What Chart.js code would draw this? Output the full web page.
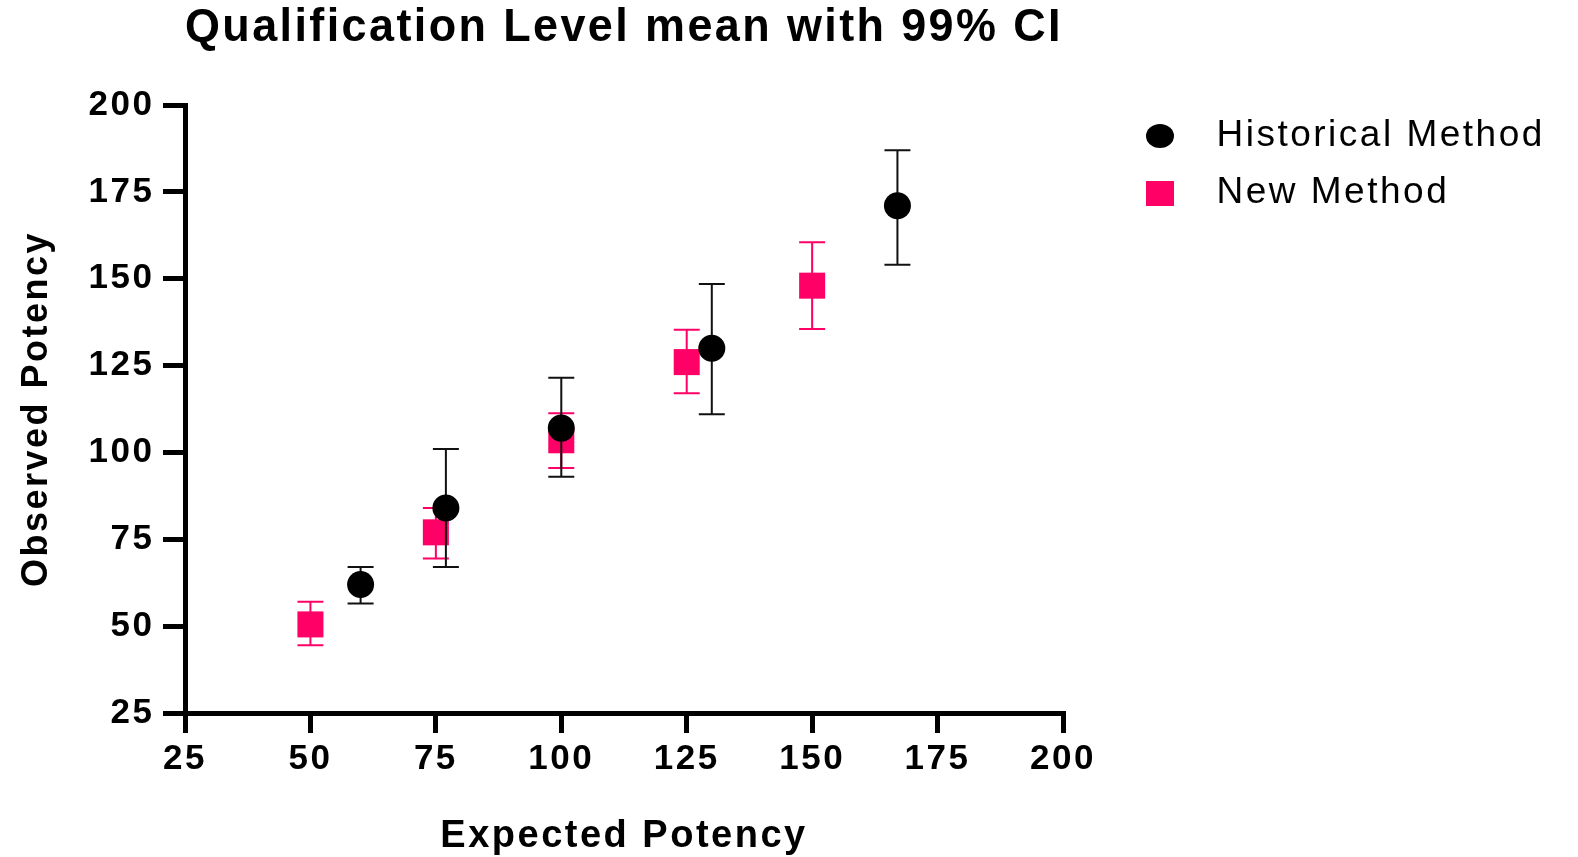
<!DOCTYPE html>
<html>
<head>
<meta charset="utf-8">
<title>Qualification Level mean with 99% CI</title>
<script src="https://cdn.jsdelivr.net/npm/chart.js@4.4.1/dist/chart.umd.min.js"></script>
<style>
  html, body { margin: 0; padding: 0; background: #fff; }
  canvas { display: block; }
</style>
</head>
<body>
<canvas id="potencyChart" width="1578" height="857"></canvas>
<script>
// expected vs observed potency, group means with 99% CI
var histExpected = [60, 77, 100, 130, 167];
var histMean = [62, 84, 107, 130, 171];
var histLow = [56.5, 67, 93, 111, 154];
var histHigh = [67, 101, 121.5, 148.5, 187];

var newExpected = [50, 75, 100, 125, 150];
var newMean = [50.5, 77, 103.5, 126, 148];
var newLow = [44.5, 69.5, 95.5, 117, 135.5];
var newHigh = [57, 84, 111.3, 135.3, 160.5];

var axisTicks = [25, 50, 75, 100, 125, 150, 175, 200];
var seriesNames = ['Historical Method', 'New Method'];

var FONT = "'Liberation Sans', Arial, sans-serif";
var PINK = '#ff0066';
var SPACING = '2.5px';
var LEGEND_SIZE = 37;

// small canvases used as legend symbols (pointStyleWidth wide)
var MARK_W = 115;
function legendMark(draw) {
  var c = document.createElement('canvas');
  c.width = MARK_W;
  c.height = 30;
  draw(c.getContext('2d'));
  return c;
}
var histMark = legendMark(function(g) {
  g.fillStyle = '#000';
  g.beginPath();
  g.ellipse(77, 15, 14, 12, 0, 0, Math.PI * 2);
  g.fill();
});
var newMark = legendMark(function(g) {
  g.fillStyle = PINK;
  g.fillRect(63, 3, 28, 25);
});

// keep the plot's right edge fixed: legend width depends on its longest label
var probe = document.createElement('canvas').getContext('2d');
probe.font = LEGEND_SIZE + 'px ' + FONT;
probe.letterSpacing = SPACING;
var legendText = Math.max.apply(null, seriesNames.map(function(s) { return probe.measureText(s).width; }));
var rightPad = Math.max(0, 515 - (20 + MARK_W + LEGEND_SIZE / 2 + legendText + 10));

// vertical CI whiskers with caps, drawn just before each dataset's points
var errorBars = {
  id: 'errorBars',
  beforeDatasetDraw(chart, args) {
    var ds = chart.data.datasets[args.index];
    if (!ds.ciLow) return;
    var xs = chart.scales.x, ys = chart.scales.y, ctx = chart.ctx;
    ctx.save();
    ctx.strokeStyle = ds.barColor;
    ctx.lineWidth = 2;
    ds.data.forEach(function(pt, i) {
      var px = xs.getPixelForValue(pt.x);
      var top = ys.getPixelForValue(ds.ciHigh[i]);
      var bot = ys.getPixelForValue(ds.ciLow[i]);
      ctx.beginPath();
      ctx.moveTo(px, top); ctx.lineTo(px, bot);
      ctx.moveTo(px - 13, top); ctx.lineTo(px + 13, top);
      ctx.moveTo(px - 13, bot); ctx.lineTo(px + 13, bot);
      ctx.stroke();
    });
    ctx.restore();
  }
};

// slightly wide lettering for all chart text
var spacing = {
  id: 'spacing',
  beforeUpdate(chart) { chart.ctx.letterSpacing = SPACING; },
  beforeDraw(chart) { chart.ctx.letterSpacing = SPACING; }
};

function axis(extra) {
  return Object.assign({
    type: 'linear',
    min: axisTicks[0],
    max: axisTicks[axisTicks.length - 1],
    afterBuildTicks: function(s) { s.ticks = axisTicks.map(function(v) { return {value: v}; }); },
    border: { display: true, color: '#000', width: 5 }
  }, extra);
}

new Chart(document.getElementById('potencyChart'), {
  type: 'scatter',
  data: {
    datasets: [
      {
        label: seriesNames[0],
        data: histExpected.map(function(x, i) { return {x: x, y: histMean[i]}; }),
        ciLow: histLow,
        ciHigh: histHigh,
        barColor: '#111',
        pointStyle: 'circle',
        pointRadius: 13.5,
        pointHoverRadius: 13.5,
        backgroundColor: '#000',
        borderWidth: 0
      },
      {
        label: seriesNames[1],
        data: newExpected.map(function(x, i) { return {x: x, y: newMean[i]}; }),
        ciLow: newLow,
        ciHigh: newHigh,
        barColor: PINK,
        pointStyle: 'rect',
        pointRadius: 18.4,
        pointHoverRadius: 18.4,
        backgroundColor: PINK,
        borderWidth: 0
      }
    ]
  },
  options: {
    responsive: false,
    animation: false,
    devicePixelRatio: 1,
    layout: { padding: { right: rightPad } },
    scales: {
      x: axis({
        afterFit: function(s) { s.height = 144; },
        grid: { display: true, drawOnChartArea: false, drawTicks: true, tickLength: 20, lineWidth: 5, tickWidth: 5, color: '#000', tickColor: '#000' },
        ticks: { color: '#000', padding: 5, font: { family: FONT, size: 35, weight: 'bold' } },
        title: {
          display: true,
          text: 'Expected Potency',
          color: '#000',
          font: { family: FONT, size: 38, weight: 'bold', lineHeight: 1 },
          padding: { top: 0, bottom: 1 }
        }
      }),
      y: axis({
        afterFit: function(s) { s.width = 185; },
        grid: { display: true, drawOnChartArea: false, drawTicks: true, tickLength: 22, lineWidth: 5, tickWidth: 5, color: '#000', tickColor: '#000' },
        ticks: { color: '#000', padding: 8.5, font: { family: FONT, size: 35, weight: 'bold' } },
        title: {
          display: true,
          text: 'Observed Potency',
          color: '#000',
          font: { family: FONT, size: 36, weight: 'bold', lineHeight: 1 },
          padding: { top: 19, bottom: 0 }
        }
      })
    },
    plugins: {
      title: {
        display: true,
        text: 'Qualification Level mean with 99% CI',
        fullSize: false,
        color: '#000',
        font: { family: FONT, size: 47, weight: 'bold', lineHeight: 1.2 },
        padding: { top: 0, bottom: 48.6 }
      },
      legend: {
        position: 'right',
        align: 'start',
        maxWidth: 700,
        title: { display: true, text: '', font: { size: 10, lineHeight: 1 }, padding: { top: 87.5, bottom: 0 } },
        labels: {
          usePointStyle: true,
          pointStyleWidth: MARK_W,
          padding: 20,
          color: '#000',
          font: { family: FONT, size: LEGEND_SIZE },
          generateLabels: function(chart) {
            var items = Chart.defaults.plugins.legend.labels.generateLabels(chart);
            items[0].pointStyle = histMark;
            items[1].pointStyle = newMark;
            return items;
          }
        }
      },
      tooltip: { enabled: false }
    }
  },
  plugins: [spacing, errorBars]
});
</script>
</body>
</html>
